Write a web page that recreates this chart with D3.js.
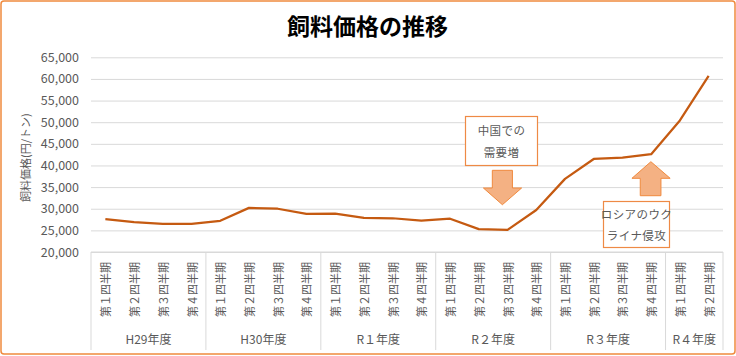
<!DOCTYPE html>
<html>
<head>
<meta charset="utf-8">
<script src="https://cdn.jsdelivr.net/npm/d3@7"></script>
<style>
  html, body { margin: 0; padding: 0; background: #fff; }
  svg { display: block; font-family: "Noto Sans CJK JP", "Noto Sans", sans-serif; }
</style>
</head>
<body>
<svg id="chart" width="736" height="356"></svg>
<script>
// ---- data ----
const years = ["H29年度", "H30年度", "R１年度", "R２年度", "R３年度", "R４年度"];
const quartersPerYear = [4, 4, 4, 4, 4, 2];
const quarterLabels = ["第１四半期", "第２四半期", "第３四半期", "第４四半期"];
const prices = [27600, 26900, 26500, 26500, 27200, 30200, 30000, 28800,
                28850, 27900, 27800, 27250, 27700, 25300, 25100, 29700,
                36900, 41500, 41800, 42600, 50400, 60700];
const yTicks = [20000, 25000, 30000, 35000, 40000, 45000, 50000, 55000, 60000, 65000];
const chartTitle = "飼料価格の推移";
const yTitle = "飼料価格(円/トン)";
const note1 = ["中国での", "需要増"];
const note2 = ["ロシアのウク", "ライナ侵攻"];

// categories built from years/quarters
const categories = [];
years.forEach((yr, gi) => {
  for (let q = 0; q < quartersPerYear[gi]; q++) categories.push({ year: yr, label: quarterLabels[q] });
});

// ---- layout ----
const W = 736, H = 356;
const plot = { left: 91, right: 723, top: 57.3, bottom: 252 };
const svg = d3.select("#chart");
const grey = "#595959";

const x = d3.scaleBand().domain(d3.range(categories.length)).range([plot.left, plot.right]).padding(0);
const xPos = d3.scaleLinear().domain([0, categories.length]).range([plot.left, plot.right]);
const y = d3.scaleLinear().domain([20000, 65000]).range([plot.bottom, plot.top]);

// outer border
svg.append("rect").attr("x", 1).attr("y", 1).attr("width", W - 2).attr("height", H - 3)
  .attr("rx", 3).attr("fill", "#fff").attr("stroke", "#F08A3E").attr("stroke-width", 1.5);

// title
svg.append("text").attr("x", 367.5).attr("y", 25).attr("text-anchor", "middle")
  .attr("dominant-baseline", "central").attr("font-size", 23).attr("font-weight", "bold")
  .attr("fill", "#000").text(chartTitle);

// gridlines + y labels
const yAxis = d3.axisLeft(y).tickValues(yTicks).tickFormat(d3.format(",")).tickSize(-(plot.right - plot.left)).tickPadding(12);
const gy = svg.append("g").attr("transform", `translate(${plot.left},0)`).call(yAxis);
gy.select(".domain").remove();
gy.selectAll(".tick line").attr("stroke", "#D9D9D9").attr("stroke-width", 1);
gy.selectAll(".tick text").attr("fill", grey).attr("font-size", 12.5)
  .attr("font-family", "'Noto Sans CJK JP', sans-serif");

// y title
svg.append("text").attr("transform", `translate(25,${(plot.top + plot.bottom) / 2 + 3}) rotate(-90)`)
  .attr("text-anchor", "middle").attr("dominant-baseline", "central")
  .attr("font-size", 11).attr("fill", grey).text(yTitle);

// x axis baseline
svg.append("line").attr("x1", plot.left).attr("x2", plot.right).attr("y1", plot.bottom).attr("y2", plot.bottom)
  .attr("stroke", "#D9D9D9").attr("stroke-width", 1);

// group separators
let acc = 0;
const bounds = [0];
quartersPerYear.forEach(n => { acc += n; bounds.push(acc); });
svg.selectAll("line.sep").data(bounds).enter().append("line").attr("class", "sep")
  .attr("x1", d => xPos(d)).attr("x2", d => xPos(d))
  .attr("y1", plot.bottom).attr("y2", 350)
  .attr("stroke", "#D9D9D9").attr("stroke-width", 1);

// group labels
svg.selectAll("text.grp").data(years).enter().append("text").attr("class", "grp")
  .attr("x", (d, i) => (xPos(bounds[i]) + xPos(bounds[i + 1])) / 2)
  .attr("y", 338).attr("text-anchor", "middle").attr("dominant-baseline", "central")
  .attr("font-size", 12).attr("fill", grey).text(d => d);

// category labels (rotated)
svg.selectAll("text.cat").data(categories).enter().append("text").attr("class", "cat")
  .attr("transform", (d, i) => `translate(${x(i) + x.bandwidth() / 2},262) rotate(-90)`)
  .attr("text-anchor", "end").attr("dominant-baseline", "central")
  .attr("font-size", 11).attr("fill", grey).text(d => d.label);

// line
const line = d3.line().x((d, i) => x(i) + x.bandwidth() / 2).y(d => y(d));
svg.append("path").datum(prices).attr("d", line).attr("fill", "none")
  .attr("stroke", "#C55A11").attr("stroke-width", 2.25).attr("stroke-linejoin", "round");

// ---- annotations (anchored in category / value space) ----
function noteBox(c0, c1, v0, v1, lines) {
  const bx = Math.round(xPos(c0)) + 0.5, bw = Math.round(xPos(c1) - xPos(c0));
  const by = Math.round(y(v1)) + 0.5, bh = Math.round(y(v0) - y(v1));
  svg.append("rect").attr("x", bx).attr("y", by).attr("width", bw).attr("height", bh)
    .attr("fill", "#fff").attr("stroke", "#EE8A45").attr("stroke-width", 1.2);
  const cx = bx + bw / 2, cy = by + bh / 2;
  lines.forEach((t, k) => {
    svg.append("text").attr("x", cx).attr("y", cy + (k - (lines.length - 1) / 2) * 21.5)
      .attr("text-anchor", "middle").attr("dominant-baseline", "central")
      .attr("font-size", 11.5).attr("letter-spacing", 0.4).attr("fill", grey).text(t);
  });
}
function blockArrow(sx0, sx1, hx0, hx1, tipX, vTail, vHead, vTip) {
  const pts = [
    [xPos(sx0), y(vTail)], [xPos(sx1), y(vTail)], [xPos(sx1), y(vHead)], [xPos(hx1), y(vHead)],
    [xPos(tipX), y(vTip)], [xPos(hx0), y(vHead)], [xPos(sx0), y(vHead)]
  ];
  svg.append("path").attr("d", d3.line()(pts) + "Z")
    .attr("fill", "#F4B183").attr("stroke", "#F08A3E").attr("stroke-width", 1);
}
// 中国での需要増
noteBox(13.02, 15.53, 40040, 51360, note1);
blockArrow(13.97, 14.67, 13.66, 14.99, 14.32, 38880, 34790, 30930);
// ロシアのウクライナ侵攻
noteBox(17.83, 20.13, 21090, 31790, note2);
blockArrow(19.12, 19.84, 18.83, 20.16, 19.49, 33010, 37030, 40870);
</script>
</body>
</html>
